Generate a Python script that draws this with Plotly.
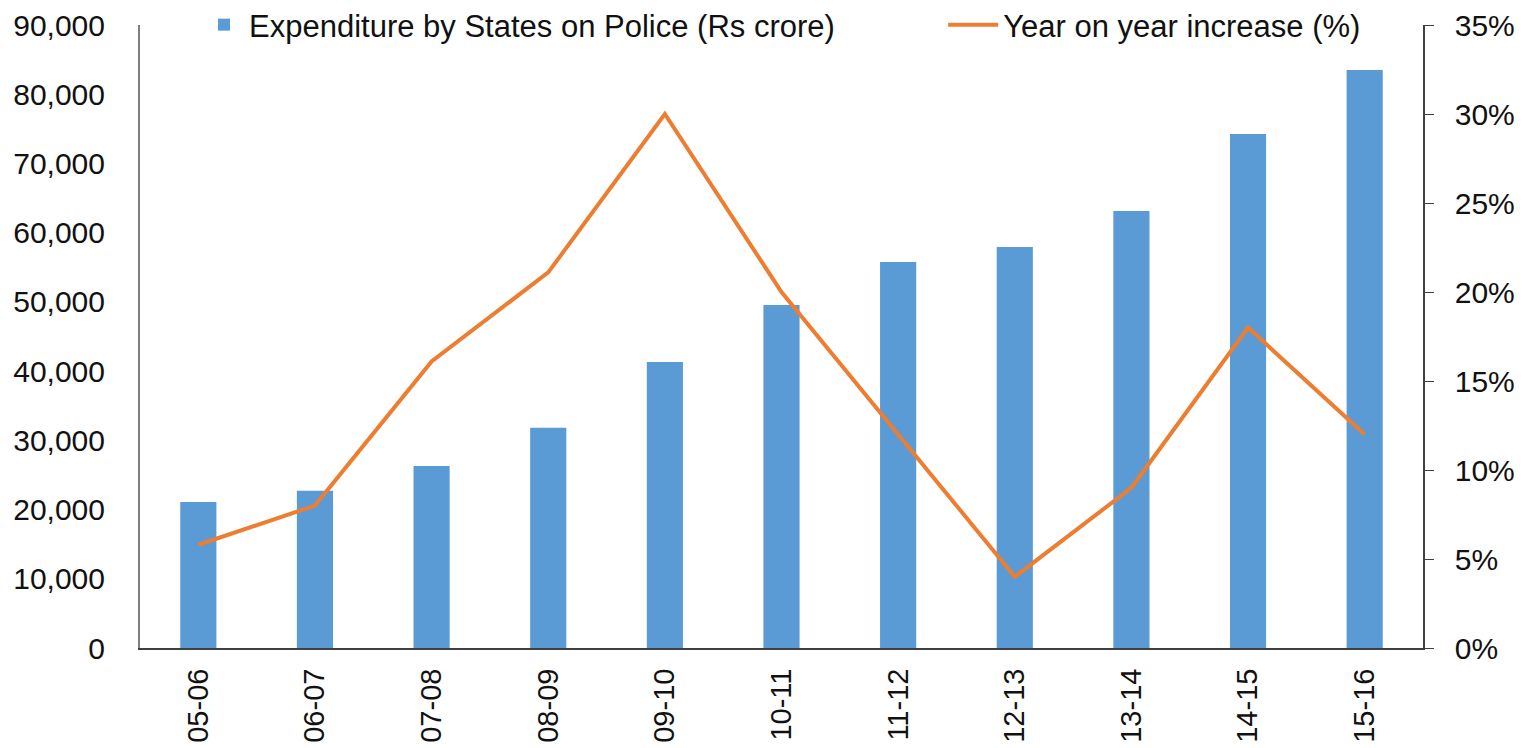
import plotly.graph_objects as go

years = ["05-06", "06-07", "07-08", "08-09", "09-10", "10-11", "11-12", "12-13", "13-14", "14-15", "15-16"]
expenditure = [21100, 22700, 26300, 31800, 41300, 49550, 55760, 57930, 63130, 74260, 83500]
yoy_increase = [0.058, 0.080, 0.161, 0.211, 0.300, 0.200, 0.120, 0.040, 0.090, 0.180, 0.120]

FONT = "Liberation Sans, Arial, sans-serif"

fig = go.Figure()
fig.add_trace(go.Bar(
    x=years, y=expenditure, name="Expenditure by States on Police (Rs crore)",
    marker=dict(color="#5B9BD5", line=dict(width=0)), width=0.31, yaxis="y",
    legend="legend"))
fig.add_trace(go.Scatter(
    x=years, y=yoy_increase, name="Year on year increase (%)", mode="lines",
    line=dict(color="#ED7D31", width=4), yaxis="y2", legend="legend2"))

fig.update_layout(
    width=1523, height=748,
    margin=dict(l=140, r=100, t=25, b=100, autoexpand=False),
    paper_bgcolor="white", plot_bgcolor="white",
    font=dict(family=FONT, size=30, color="#111111"),
    showlegend=True,
    legend=dict(orientation="h", x=0.046, y=1.0, xanchor="left", yanchor="middle",
                font=dict(size=31), bgcolor="rgba(255,255,255,0)", itemwidth=40),
    legend2=dict(orientation="h", x=0.626, y=1.0, xanchor="left", yanchor="middle",
                 font=dict(size=31), bgcolor="rgba(255,255,255,0)", itemwidth=50),
    xaxis=dict(type="category", showline=True, linecolor="#404040", linewidth=2,
               showgrid=False, ticks="", tickangle=-90, ticklabelstandoff=7,
               tickfont=dict(size=29), range=[-0.5, 10.5], automargin=False),
    yaxis=dict(range=[0, 90000], dtick=10000, tickformat=",", showgrid=False,
               showline=True, linecolor="#7f7f7f", linewidth=2, ticks="",
               ticklabelstandoff=27, zeroline=False, automargin=False),
    yaxis2=dict(range=[0, 0.35], dtick=0.05, tickformat=".0%", overlaying="y", side="right",
                showgrid=False, showline=True, linecolor="#404040", linewidth=1.5,
                ticks="outside", ticklen=9, tickcolor="#404040", ticklabelstandoff=15,
                zeroline=False, automargin=False),
    bargap=0.69,
)

fig.write_html(
    "out.html",
    config={"displayModeBar": False},
    post_script="document.body.style.margin='0';document.body.style.overflow='hidden';",
)
